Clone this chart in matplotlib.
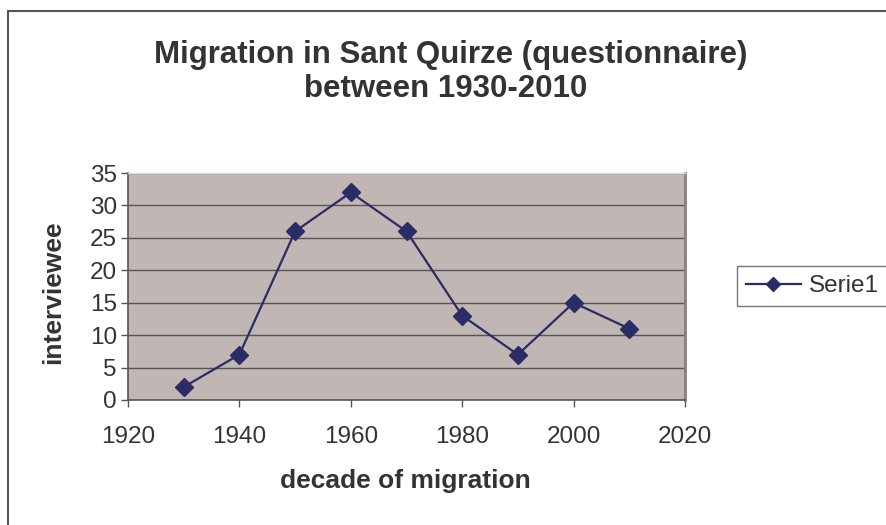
#!/usr/bin/env python3
# -*- coding: utf-8 -*-
"""
Migration in Sant Quirze, Excel-style line chart.
"""

import matplotlib
matplotlib.use('Agg')
import matplotlib.pyplot as plt
from matplotlib.patches import Rectangle

plt.rcParams['font.family'] = ['Liberation Sans', 'DejaVu Sans']

DECADES = [1930, 1940, 1950, 1960, 1970, 1980, 1990, 2000, 2010]
INTERVIEWEES = [2, 7, 26, 32, 26, 13, 7, 15, 11]
SERIES_NAME = 'Serie1'
TITLE_LINES = ['Migration in Sant Quirze (questionnaire)', 'between 1930-2010']

LINE_COLOR = '#2b2b66'
BG_COLOR = '#c0b6b3'
TEXT_COLOR = '#333333'


def make_plot():
    fig = plt.figure(figsize=(8.87, 5.25), dpi=100)

    # outer chart border (clipped at right/bottom like the original)
    fig.patches.append(Rectangle((8 / 887, -0.1), 1.2, 1 - 11 / 525 + 0.1,
                                 transform=fig.transFigure, fill=False,
                                 edgecolor='#555555', linewidth=1.5))

    ax = fig.add_axes([128 / 887, 1 - 400 / 525, 557 / 887, 227 / 525])
    ax.set_facecolor(BG_COLOR)
    ax.plot(DECADES, INTERVIEWEES, color=LINE_COLOR, linewidth=1.6,
            marker='D', markersize=9, markerfacecolor=LINE_COLOR,
            markeredgecolor=LINE_COLOR, label=SERIES_NAME, zorder=3)

    ax.set_xlim(1920, 2020)
    ax.set_ylim(0, 35)
    ax.set_xticks(range(1920, 2021, 20))
    ax.set_yticks(range(0, 36, 5))
    ax.yaxis.grid(True, color='#555555', linewidth=1.0)
    ax.set_axisbelow(True)

    for side in ['left', 'bottom']:
        ax.spines[side].set_color('#555555')
        ax.spines[side].set_linewidth(1.2)
    ax.spines['right'].set_color('#8a7f7d')
    ax.spines['right'].set_linewidth(2)
    ax.spines['top'].set_color('#e0dbd9')
    ax.spines['top'].set_linewidth(1)

    ax.tick_params(axis='both', labelsize=17.5, colors='#555555',
                   labelcolor=TEXT_COLOR, length=5, width=1, direction='out')
    ax.tick_params(axis='x', pad=14)
    ax.tick_params(axis='y', pad=3)

    ax.set_ylabel('interviewee', fontsize=19, fontweight='bold',
                  color=TEXT_COLOR)
    ax.yaxis.set_label_coords(65 / 887, 1 - 292 / 525, transform=fig.transFigure)
    ax.set_xlabel('decade of migration', fontsize=19, fontweight='bold',
                  color=TEXT_COLOR)
    ax.xaxis.set_label_coords(405 / 887, 1 - 469 / 525, transform=fig.transFigure)

    fig.text(451 / 887, 1 - 63 / 525, TITLE_LINES[0], ha='center',
             va='baseline', fontsize=22.5, fontweight='bold', color=TEXT_COLOR)
    fig.text(446 / 887, 1 - 97 / 525, TITLE_LINES[1], ha='center',
             va='baseline', fontsize=22.5, fontweight='bold', color=TEXT_COLOR)

    leg = fig.legend(loc='center left', bbox_to_anchor=(737 / 887, 1 - 286 / 525),
                     fontsize=17.5, frameon=True, fancybox=False,
                     handlelength=2.3, borderpad=0.35, handletextpad=0.3,
                     borderaxespad=0, markerscale=0.75)
    leg.get_frame().set_edgecolor('#555555')
    leg.get_frame().set_linewidth(1.0)
    for t in leg.get_texts():
        t.set_color(TEXT_COLOR)

    fig.savefig('out.png', dpi=100)


if __name__ == '__main__':
    make_plot()
